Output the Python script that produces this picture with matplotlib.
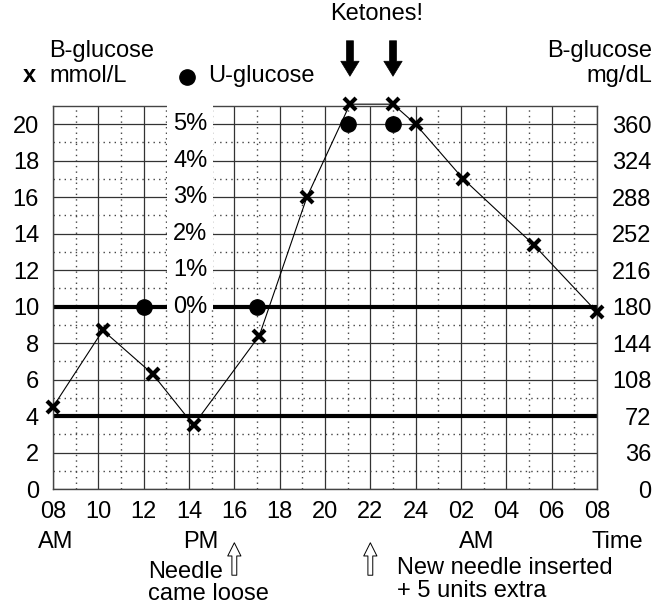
"""
Blood glucose / urine glucose chart over 24 h (needle came loose episode).
"""
import matplotlib
matplotlib.use("Agg")
import matplotlib.pyplot as plt
from matplotlib.lines import Line2D
from matplotlib.patches import Rectangle
from matplotlib.transforms import blended_transform_factory

# hours since midnight of day 1 (08 AM -> 08 AM next day)
bg_hours = [8.0, 10.2, 12.4, 14.2, 17.1, 19.2, 21.1, 23.0, 24.0, 26.1, 29.2, 32.0]
bg_mmol = [4.5, 8.7, 6.3, 3.5, 8.4, 16.0, 21.1, 21.1, 20.0, 17.0, 13.4, 9.7]

ug_hours = [12.0, 17.0, 21.0, 23.0]
ug_pct = [0, 0, 5, 5]

target_low = 4
target_high = 10

x_ticks = [8, 10, 12, 14, 16, 18, 20, 22, 24, 26, 28, 30, 32]
x_labels = ["08", "10", "12", "14", "16", "18", "20", "22", "24", "02", "04", "06", "08"]
mmol_ticks = [0, 2, 4, 6, 8, 10, 12, 14, 16, 18, 20]
mgdl_ticks = [0, 36, 72, 108, 144, 180, 216, 252, 288, 324, 360]
pct_ticks = [0, 1, 2, 3, 4, 5]
ketone_hours = [21.1, 23.0]

W, H = 655, 610
FS = 17
plt.rcParams["font.family"] = ["Liberation Sans", "DejaVu Sans"]


def px(x, y):
    return x / W, 1 - y / H


fig = plt.figure(figsize=(W / 100, H / 100), dpi=100)
ax = fig.add_axes([53 / W, 121 / H, 544 / W, 383 / H])
ax.set_xlim(8, 32)
ax.set_ylim(0, 21)

# grid
ax.set_xticks(x_ticks)
ax.set_xticks(range(9, 32, 2), minor=True)
ax.set_yticks(mmol_ticks)
ax.set_yticks(range(1, 21, 2), minor=True)
ax.set_xticklabels(x_labels, fontsize=FS)
ax.set_yticklabels([str(v) for v in mmol_ticks], fontsize=FS)
ax.tick_params(which="both", length=0)
ax.tick_params(axis="y", pad=10)
ax.tick_params(axis="x", pad=9)
ax.set_axisbelow(True)
ax.grid(which="major", color="#333333", lw=0.9, ls="-")
ax.grid(which="minor", color="#444444", lw=1.0, ls=(0, (1, 3)))
for s in ax.spines.values():
    s.set_color("#444444")
    s.set_linewidth(1.0)

# target range
ax.axhline(target_low, color="black", lw=3, zorder=2)
ax.axhline(target_high, color="black", lw=3, zorder=2)

# gap in the upper grid where the percent scale sits
ax.add_patch(Rectangle((13.05, 9.8), 2.0, 11.6, facecolor="white",
                       edgecolor="none", zorder=2.6, clip_on=False))

# blood glucose
ax.plot(bg_hours, bg_mmol, color="black", lw=0.8, marker="x", markersize=9,
        markeredgewidth=3, zorder=4, clip_on=False)

# urine glucose on its own scale (0% at 10 mmol/L, 5% at 20 mmol/L)
ax_pct = ax.twinx()
ax_pct.set_ylim(-5, 5.5)
ax_pct.set_yticks([])
for s in ax_pct.spines.values():
    s.set_visible(False)
ax_pct.plot(ug_hours, ug_pct, ls="none", marker="o", markersize=11,
            color="black", zorder=4, clip_on=False)
for p in pct_ticks:
    ax_pct.text(14.05, p, f"{p}%", ha="center", va="center", fontsize=FS, zorder=5)

# mg/dL scale on the right
ax_mg = ax.twinx()
ax_mg.set_ylim(0, 378)
ax_mg.set_yticks(mgdl_ticks)
ax_mg.set_yticklabels([str(v) for v in mgdl_ticks], fontsize=FS, ha="right")
ax_mg.tick_params(length=0, pad=39)
for s in ax_mg.spines.values():
    s.set_visible(False)

# header texts
fig.text(*px(49, 57), "B-glucose", fontsize=FS, va="baseline")
fig.text(*px(49, 82), "mmol/L", fontsize=FS, va="baseline")
fig.text(*px(23, 82), "x", fontsize=FS, va="baseline", fontweight="bold")
fig.add_artist(Line2D([187 / W], [1 - 77 / H], marker="o", markersize=11,
                      color="black", transform=fig.transFigure))
fig.text(*px(208, 82), "U-glucose", fontsize=FS, va="baseline")
fig.text(*px(652, 57), "B-glucose", fontsize=FS, va="baseline", ha="right")
fig.text(*px(652, 82), "mg/dL", fontsize=FS, va="baseline", ha="right")
fig.text(*px(377, 20), "Ketones!", fontsize=FS, va="baseline", ha="center")

for h in ketone_hours:
    ax.annotate("", xy=(h, 1 - 79 / H), xytext=(h, 1 - 38 / H),
                xycoords=("data", "figure fraction"),
                textcoords=("data", "figure fraction"),
                arrowprops=dict(arrowstyle="simple,head_width=1.1,head_length=0.9,tail_width=0.42",
                                mutation_scale=12, fc="black", ec="black", lw=0.5))

# bottom texts
xfig = blended_transform_factory(ax.transData, fig.transFigure)
for h, lab in [(8.1, "AM"), (14.5, "PM"), (26.7, "AM"), (32.9, "Time")]:
    ax.text(h, 1 - 548 / H, lab, transform=xfig, ha="center", va="baseline", fontsize=FS)

for h in (16, 22):
    ax.annotate("", xy=(h, 1 - 540 / H), xytext=(h, 1 - 578 / H),
                xycoords=xfig, textcoords=xfig,
                arrowprops=dict(arrowstyle="simple,head_width=0.95,head_length=0.95,tail_width=0.35",
                                mutation_scale=10, fc="white", ec="black", lw=0.7))

fig.text(*px(148, 578), "Needle", fontsize=FS, va="baseline")
fig.text(*px(148, 600), "came loose", fontsize=FS, va="baseline")
fig.text(*px(397, 574), "New needle inserted", fontsize=FS, va="baseline")
fig.text(*px(397, 597), "+ 5 units extra", fontsize=FS, va="baseline")

fig.savefig("out.png", dpi=100)
